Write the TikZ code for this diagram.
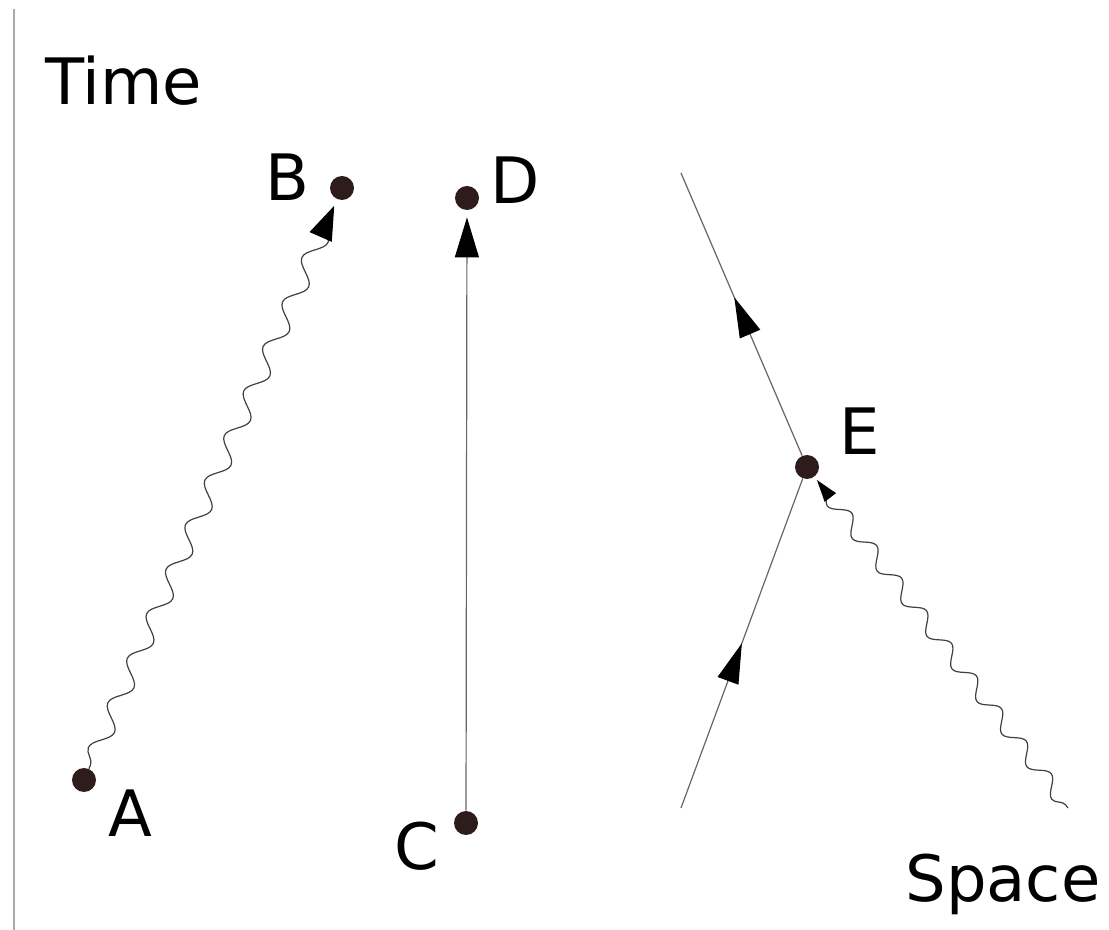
\documentclass[tikz,border=0pt]{standalone}
\usepackage{fontspec}
\setmainfont{DejaVu Sans}
\usepackage{xcolor}
\usepackage{tikz}
\usetikzlibrary{positioning}
\usetikzlibrary{arrows.meta}
\usetikzlibrary{decorations.pathmorphing, decorations.markings}

\definecolor{dotcol}{HTML}{2E1C1C}
\definecolor{axiscol}{HTML}{AAAAAA}

\begin{document}
\begin{tikzpicture}[x=0.5pt, y=-0.5pt,
		dot/.style={circle, fill=dotcol, inner sep=0pt, minimum size=12pt},
		lbl/.style={inner sep=0pt, font=\fontsize{32}{38}\selectfont},
		worldline/.style={draw=black!60, line width=0.6pt},
		photon/.style={draw=black!75, line width=0.6pt, decorate,
				decoration={snake, amplitude=#1, segment length=2*#1*2.7, pre length=2pt, post length=9pt}},
		midtip/.style={postaction={decorate, decoration={markings,
							mark=at position #1 with {\arrow{Triangle[length=20pt, width=11pt, black]}}}}}]
		\useasboundingbox (0,0) rectangle (1109,930);

		% Time axis
		\draw[axiscol, line width=1.2pt] (14,9) -- (14,930);
		\node[lbl, anchor=base west] (time) at (45,105) {Time};
		\node[lbl, anchor=base west] (space) at (905,901) {Space};

		% Events
		\foreach \n/\x/\y in {A/84/780, B/342/188, C/466/823, D/467/198, E/807/467}
		\node[dot] (\n) at (\x,\y) {};

		% Event labels
		\node[lbl] (lA) at (130,813) {A};
		\node[lbl] (lB) at (287,177) {B};
		\node[lbl] (lC) at (417,846) {C};
		\node[lbl] (lD) at (515,180) {D};
		\node[lbl] (lE) at (860,431) {E};

		% Free ends of the lines through E
		\coordinate (Eout) at (681,173);
		\coordinate (Ein) at (681,808);
		\coordinate (Gin) at (1068,808);

		% Light signal from A to B
		\draw[photon=4.5pt, -{Triangle[length=17pt, width=12pt, black]}, shorten >=3.5pt] (A) -- (B);

		% Particle at rest from C to D
		\draw[worldline, -{Triangle[length=20pt, width=12pt, black]}, shorten >=3.5pt] (C) -- (D);

		% Particle absorbing a photon at E
		\draw[worldline, midtip=0.5] (Ein) -- (E);
		\draw[worldline, midtip=0.56] (E) -- (Eout);
		\draw[photon=3.8pt, -{Triangle[length=11pt, width=7pt, black]}, shorten >=2pt] (Gin) -- (E);
	\end{tikzpicture}
\end{document}
